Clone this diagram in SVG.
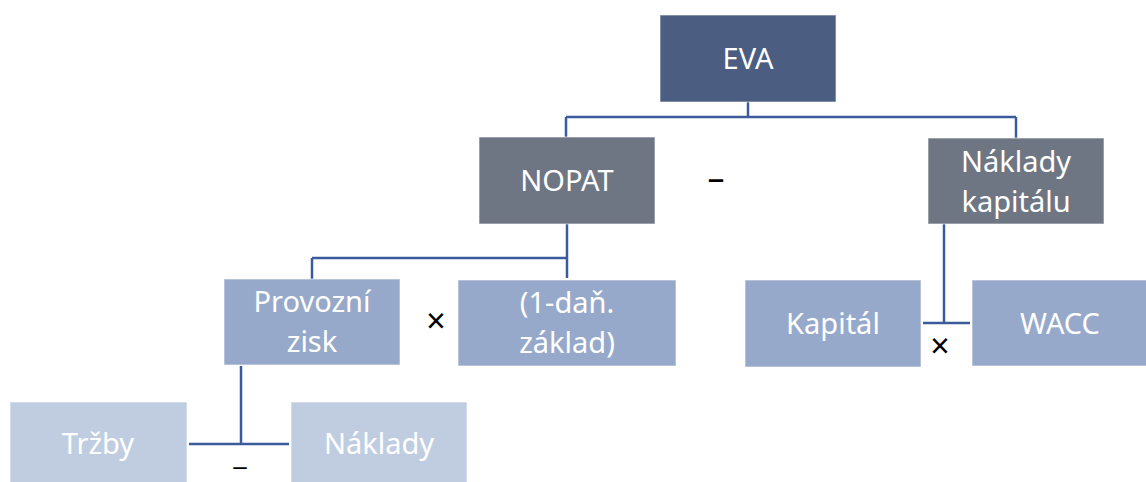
<svg xmlns="http://www.w3.org/2000/svg" width="1146" height="482" viewBox="0 0 1146 482">
<style>
.box{stroke:#ffffff;stroke-opacity:0.6;stroke-width:1}
.l1{fill:#4b5d80}
.l2{fill:#6f7683}
.l3{fill:#97a9ca}
.l4{fill:#c0cde1}
.t{font-family:"Noto Sans","Open Sans",sans-serif;font-size:29px;fill:#ffffff;text-anchor:middle}
.op{font-family:"Noto Sans","Open Sans",sans-serif;font-size:34px;fill:#000000;text-anchor:middle}
.c{fill:none;stroke:#3b5b9b;stroke-width:2.5}
</style>
<rect width="1146" height="482" fill="#ffffff"/>
<g id="connectors">
<path class="c" d="M748,102 V117 M566,117 H1016 M566,117 V137 M1016,117 V138"/>
<path class="c" d="M567,224 V278 M312,258 H567 M312,258 V279"/>
<path class="c" d="M944,224 V323 M923,323 H970"/>
<path class="c" d="M241,366 V444 M189,444 H289"/>
</g>
<g id="eva"><rect class="box l1" x="660" y="15" width="176" height="87"/><text class="t" x="748" y="69">EVA</text></g>
<g id="nopat"><rect class="box l2" x="479" y="137" width="176" height="87"/><text class="t" x="567" y="191">NOPAT</text></g>
<g id="naklady-kapitalu"><rect class="box l2" x="928" y="138" width="176" height="86"/><text class="t" x="1016" y="172">Náklady</text><text class="t" x="1016" y="212">kapitálu</text></g>
<g id="provozni-zisk"><rect class="box l3" x="224" y="279" width="176" height="86"/><text class="t" x="312" y="312">Provozní</text><text class="t" x="312" y="352">zisk</text></g>
<g id="dan"><rect class="box l3" x="458" y="280" width="218" height="86"/><text class="t" x="567" y="313">(1-daň.</text><text class="t" x="567" y="353">základ)</text></g>
<g id="kapital"><rect class="box l3" x="745" y="280" width="176" height="87"/><text class="t" x="833" y="334">Kapitál</text></g>
<g id="wacc"><rect class="box l3" x="972" y="280" width="176" height="86"/><text class="t" x="1060" y="334">WACC</text></g>
<g id="trzby"><rect class="box l4" x="10" y="402" width="177" height="82"/><text class="t" x="98" y="454">Tržby</text></g>
<g id="naklady"><rect class="box l4" x="291" y="402" width="176" height="82"/><text class="t" x="379" y="454">Náklady</text></g>
<g id="operators">
<text class="op" x="716" y="190">–</text>
<text class="op" x="436" y="333">×</text>
<text class="op" x="940" y="358">×</text>
<text class="op" x="240" y="474" style="font-size:24px" textLength="16" lengthAdjust="spacingAndGlyphs">–</text>
</g>
</svg>
